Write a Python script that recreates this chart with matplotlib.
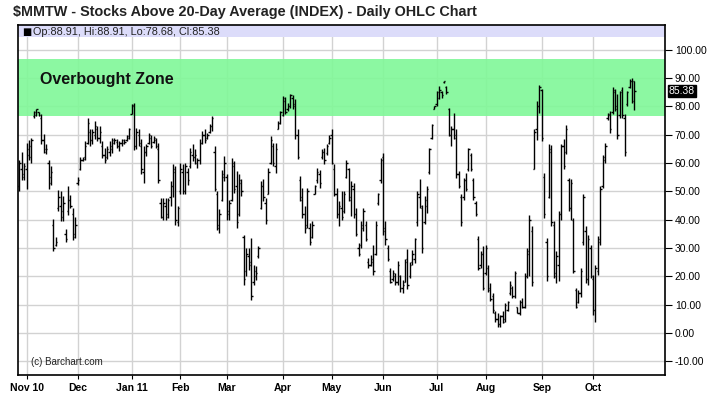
import numpy as np
import matplotlib
matplotlib.use('Agg')
import matplotlib.pyplot as plt
from matplotlib.transforms import blended_transform_factory

plt.rcParams['font.family'] = ['Liberation Sans', 'DejaVu Sans']
plt.rcParams['axes.unicode_minus'] = False

# daily bars, 27 Oct 2010 .. 26 Oct 2011 (one entry per trading day)
op = [52, 58, 56, 58, 63, 62, 76.5, 77, 78, 76, 68, 64, 60, 55, 38, 31, 44, 45, 43, 35,
      43, 47, 42, 35, 53, 58, 61, 62, 67, 71, 68, 70, 72, 69, 66, 63, 62, 64, 65, 67,
      67.5, 66, 67, 67, 68, 69, 77.5, 80, 66, 70, 66, 57, 64, 67, 69, 67.5, 68, 65, 46, 41,
      45, 42, 48, 52, 57, 39, 50, 57, 50, 57, 59, 63, 62, 60, 61, 67, 70, 69, 71, 73,
      64, 49, 37, 47, 55, 55, 43, 47, 59, 52, 42, 53, 34, 22, 27, 25, 18, 20, 27, 44,
      52, 46, 49, 60, 66, 59, 72, 74, 77, 82, 79, 80, 83, 81, 70, 54, 47, 42, 38, 37,
      34, 49, 54, 56, 62, 64, 63.5, 67, 70, 58, 49, 42, 44, 43, 55, 58, 47, 51, 42, 30,
      31, 37, 38, 25, 24, 25, 28, 46, 54, 62, 37, 30, 22, 19, 20, 18, 20, 16, 18, 26,
      20, 25, 26, 39, 48, 44, 39, 45, 57, 69, 79, 81, 83, 85, 88.5, 87, 79, 70, 72, 70,
      56, 48, 48, 54, 58, 63, 54, 46, 33, 24, 28, 21, 23, 16, 13, 7, 5, 3, 6, 5,
      8, 14, 16, 13, 9, 7, 11, 9, 20, 28, 36, 58, 72, 80, 86, 55, 32, 48, 64, 38,
      20, 24, 42, 66, 64, 54, 44, 40, 15, 11, 14, 32, 36, 19, 30, 19, 8, 22, 32, 52,
      61, 76, 77, 78, 85, 80, 77, 86, 76, 81, 87, 89, 88.91]
hi = [61, 64, 60, 67, 68, 69, 78.4, 79.2, 78, 77.2, 70.4, 66.6, 61, 59, 40.4, 34, 50.4, 50, 48.3, 36.8,
      51.8, 48.8, 44, 40.8, 55, 62, 62, 67.8, 75.8, 72, 72, 74.9, 73, 73, 67.8, 65.4, 66, 67.8, 69, 69,
      68.4, 67.8, 68.6, 68.4, 70, 72.5, 81, 81.3, 72.5, 72, 68.4, 66, 66.6, 70.7, 70, 69.5, 68.8, 67.2, 47.5, 47.7,
      47.7, 47.7, 53.6, 59.5, 59, 45, 60, 59.5, 60.1, 58.3, 65.4, 66.6, 64.8, 61.9, 68.4, 71.3, 71.9, 70.7, 73.7, 76.6,
      66, 50, 43.6, 57.7, 62.5, 56, 47, 61.9, 60.7, 57.1, 56, 54.2, 34.7, 30, 30, 33.5, 24, 23.5, 30.6, 53.6,
      54.2, 47.7, 58.3, 69.5, 67.2, 67.2, 74.9, 78.4, 83.7, 83.4, 81.3, 84.3, 84, 82.5, 71.9, 55.4, 51.2, 44.7, 51.2, 38.8,
      39.4, 52.4, 58.3, 57.7, 64.8, 65.4, 66.6, 70, 71.9, 59.5, 51.2, 46.5, 50, 50, 61.1, 58.3, 53.6, 53, 44.2, 31.8,
      39.4, 44.2, 39.4, 26.4, 27.6, 31.2, 39.4, 49.5, 61.9, 63.6, 39.4, 31.2, 22.9, 22.3, 21.1, 25.3, 20.5, 18.8, 26, 29.5,
      25, 29.4, 33.5, 50, 54.2, 45.3, 48.3, 51.8, 65.4, 73.9, 80, 85.5, 87.2, 85.5, 89, 87.2, 79.6, 73, 77.8, 71.9,
      57.1, 48.9, 54.8, 56.6, 65.4, 63.6, 54.8, 46.5, 34.1, 28.8, 30.6, 31.2, 24, 17.6, 14, 7.6, 6.9, 6.4, 7.6, 10.5,
      11.1, 18.2, 16.5, 21.8, 9.3, 11.7, 12.3, 21.2, 30, 41.8, 37.7, 72.2, 82, 87.5, 86.3, 56.6, 33.5, 66.9, 66.3, 39.4,
      28.8, 42.9, 66.9, 68.6, 73.3, 54.8, 54.2, 40.6, 15.9, 15.3, 22.9, 48.9, 37.7, 34.7, 31.2, 20.5, 24.1, 34.1, 51.8, 63,
      67.2, 77.8, 78.4, 86.9, 86.3, 84.3, 85.5, 86.9, 77.2, 85.5, 89.6, 90.2, 88.91]
lo = [50, 54, 54, 51, 61, 60, 76, 76.6, 76.6, 66.6, 63.6, 63.3, 51, 52.4, 28.8, 30.6, 43, 39.4, 39.4, 32.1,
      41.8, 44.1, 32.9, 33.5, 52.4, 57.7, 60.7, 61, 66.6, 66, 66.6, 68.4, 67.8, 67.2, 61.9, 60.1, 61.3, 62.5, 63.6, 66.6,
      65.4, 64.2, 66, 66.6, 67.8, 68.4, 77.2, 64.5, 64.8, 66, 56, 53, 62.5, 66.6, 65.4, 67.2, 65.4, 53, 40.6, 40,
      40, 40.6, 45, 48, 38, 37.7, 48.9, 48.9, 48.9, 52.4, 58.3, 60.7, 59.5, 58.3, 59.5, 66.6, 67.2, 68.4, 70.7, 71.3,
      50, 36.5, 35.3, 46.5, 53.6, 40, 40, 46.5, 49.5, 37, 41.2, 48.3, 17, 20, 22.3, 11.7, 17, 18.8, 26.4, 43.6,
      46.5, 38.3, 48.9, 59.5, 58.9, 56.6, 71.9, 73.7, 76.6, 77.2, 78.4, 79.6, 79, 68.4, 61.3, 46.5, 40.6, 35.3, 37.1, 31.2,
      33.5, 48.9, 53, 51.2, 61.3, 59.5, 63, 66.6, 59.5, 48.3, 40.6, 37.7, 40, 42.4, 54.8, 46.5, 41.2, 40.6, 34.1, 27,
      30, 35.9, 32.4, 22.9, 23.5, 20.5, 27.6, 45.3, 53, 34.7, 31.2, 25.3, 17.6, 18.2, 17, 17, 14.5, 14, 18, 15.5,
      19.5, 24, 24.7, 37.7, 44.2, 28.2, 38.3, 42.4, 56, 68.6, 79, 80.2, 82.5, 83.1, 88.4, 84.3, 69.5, 66, 68.4, 54.8,
      51.2, 37.7, 47.1, 50, 57.1, 57.1, 47.1, 41.2, 22.3, 22.9, 15.2, 20.5, 14.6, 11.1, 6.9, 4, 2.2, 2.2, 3.4, 4,
      7.6, 13.5, 12.3, 12.3, 6.9, 6.4, 8.7, 8.7, 19.4, 20, 16.5, 57.9, 68, 77.8, 67.8, 40.6, 18.2, 47.7, 37.7, 19.4,
      17.6, 18.2, 40, 57.9, 63.3, 42.9, 40, 21.1, 8.8, 10.6, 12.8, 31.2, 17.6, 17, 19.4, 6.4, 4, 20.5, 31.2, 51.2,
      60.1, 75.4, 70.7, 77.4, 78.4, 68.4, 76.1, 76.1, 62.5, 80.2, 86.6, 81.3, 78.68]
cl = [60, 55, 59, 65, 66, 68, 78, 79, 77, 68, 65, 65, 53, 57, 30, 32, 48, 41, 46, 33,
      47, 45, 34, 38, 54, 61, 61.5, 66, 74, 68, 71, 73, 69, 71, 63, 61, 65, 66, 68, 68,
      66, 67, 68, 67.5, 69.5, 72, 80.5, 66, 71, 67, 58, 64, 66, 70, 66, 69, 66, 54, 41, 46,
      41, 47, 52, 58, 40, 44, 58, 50, 59, 54, 64, 62, 63, 61, 67, 70, 68, 70, 73, 76,
      51, 38, 42, 56, 60, 42, 46, 60, 51, 39, 54, 50, 19, 28, 24, 13, 22, 21, 30, 52,
      48, 40, 57, 68, 60, 65, 74, 78, 83, 78, 80, 84, 80, 70, 62, 48, 42, 37, 50, 32,
      38, 52, 57, 53, 64, 61, 66, 69, 60, 49, 42, 45, 41, 49, 60, 48, 52, 42, 35, 28,
      38, 43, 33, 24, 26, 22, 38, 49, 61, 36, 33, 26, 18, 21, 18, 24, 16, 17, 25, 17,
      24, 28, 33, 49, 45, 30, 47, 51, 65, 73.5, 80, 85, 86, 84, 89, 85, 70, 72, 69, 56,
      52, 39, 54, 51, 65, 58, 48, 42, 23, 28, 16, 30, 15, 12, 8, 5, 3, 6, 4, 10,
      11, 17, 13, 21, 7, 11, 9, 20, 29, 40, 18, 71, 80, 87, 69, 42, 20, 65, 39, 21,
      27, 42, 66, 59, 72, 44, 53, 22, 9, 14, 22, 48, 19, 33, 20, 8, 23, 33, 51, 62,
      66, 77.5, 72, 86, 79, 70, 85, 77, 64, 85, 89, 82, 85.38]

month_pos = [3, 24, 46, 66, 85, 108, 128, 149, 171, 191, 214, 235]
month_lbl = ['Nov 10', 'Dec', 'Jan 11', 'Feb', 'Mar', 'Apr', 'May', 'Jun', 'Jul', 'Aug', 'Sep', 'Oct']
y_ticks = list(range(-10, 101, 10))
zone_lo, zone_hi = 76.8, 96.7

fig = plt.figure(figsize=(7.12, 3.97), dpi=100)
ax = fig.add_axes([18 / 712, 1 - 375 / 397, 647 / 712, 350 / 397])

x = np.arange(len(hi))
ax.vlines(x, lo, hi, color='black', lw=1.0, zorder=4)
ax.hlines(op, x - 0.55, x, color='black', lw=1.0, zorder=4)
ax.hlines(cl, x, x + 0.55, color='black', lw=1.0, zorder=4)

ax.set_xlim(-0.5, 264.5)
ax.set_ylim(-14.9, 108.8)

# overbought band and legend strip
ax.axhspan(zone_lo, zone_hi, color='#80f898', alpha=0.9, lw=0, zorder=2)
ax.axhspan(104.5, 108.8, color='#dcdcfa', lw=0, zorder=1)
ax.text(8.4, 89.4, 'Overbought Zone', fontsize=11.5, fontweight='bold',
        va='center', ha='left', color='#111111', zorder=5)

ax.set_yticks(y_ticks)
ax.set_yticklabels([f'{v:.2f}' for v in y_ticks])
ax.yaxis.tick_right()
ax.set_xticks(month_pos)
ax.set_xticklabels(month_lbl, fontweight='bold')
ax.grid(True, color='#d2d2d2', lw=1, zorder=0)
ax.set_axisbelow(True)
ax.tick_params(axis='y', direction='out', length=5, labelsize=7.5, pad=2, width=0.8)
ax.tick_params(axis='x', direction='out', length=3, labelsize=7.5, pad=3, width=0.8)
for s in ax.spines.values():
    s.set_linewidth(1.2)

# last value marker on the right axis
tr = blended_transform_factory(ax.transAxes, ax.transData)
ax.text(1.006, cl[-1], f'{cl[-1]:.2f}', transform=tr, fontsize=7.5, color='white',
        va='center', ha='left',
        bbox=dict(boxstyle='square,pad=0.1', fc='black', ec='black'))

ax.text(0.006, 0.981, '\u25a0', transform=ax.transAxes, fontsize=7,
        family='DejaVu Sans', va='center', ha='left')
ax.text(0.023, 0.981, 'Op:88.91, Hi:88.91, Lo:78.68, Cl:85.38', transform=ax.transAxes,
        fontsize=7.8, va='center', ha='left', color='#222222')
ax.text(4.7, -10.3, '(c) Barchart.com', fontsize=7, va='center', ha='left', color='#222222')

fig.text(13 / 712, 1 - 12 / 397, '$MMTW - Stocks Above 20-Day Average (INDEX) - Daily OHLC Chart',
         fontsize=10.4, fontweight='bold', va='center', ha='left', color='#222222')

fig.savefig('out.png', dpi=100)
